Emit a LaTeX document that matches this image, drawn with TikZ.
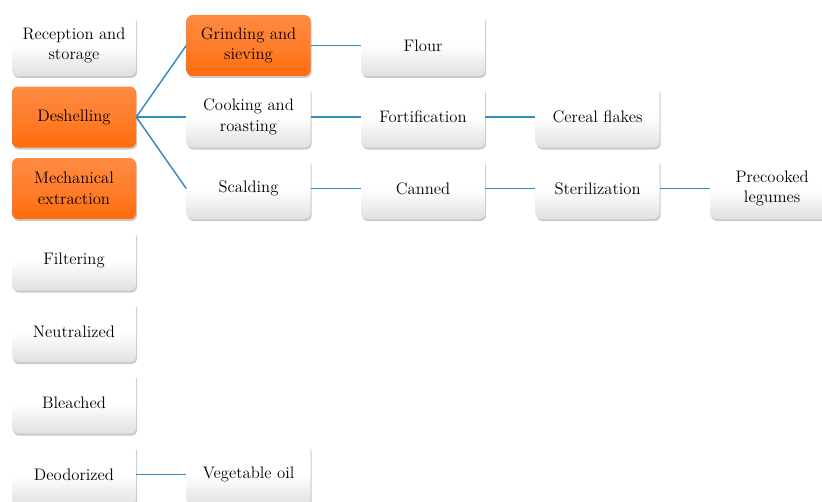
\documentclass[tikz,border=0pt]{standalone}
\usepackage{tikz}
\usetikzlibrary{positioning,shadows}

\definecolor{orangetop}{RGB}{255,138,66}
\definecolor{orangebot}{RGB}{255,108,12}
\definecolor{linkblue}{RGB}{52,140,192}

\begin{document}
\begin{tikzpicture}[
    x=0.75pt, y=-0.75pt,
    node distance=7.5pt and 37.5pt,
    stage/.style={rounded corners=4.5pt, align=center, minimum width=93pt, minimum height=45.75pt,
        inner sep=2pt, font=\fontsize{12.5}{15.5}\selectfont,
        top color=white, bottom color=black!12, middle color=white,
        drop shadow={shadow xshift=0.8pt, shadow yshift=-1.5pt, opacity=0.35, fill=black!60}},
    hot/.style={stage, top color=orangetop, bottom color=orangebot, middle color=orangetop!60!orangebot},
    link/.style={draw=linkblue, line width=1.1pt}
]
\useasboundingbox (0,0) rectangle (822,502);

% left column
\node[stage] (rec) at (74,45.5) {Reception and\\storage};
\node[hot, below=of rec] (desh) {Deshelling};
\node[hot, below=of desh] (mech) {Mechanical\\extraction};
\node[stage, below=of mech] (filt) {Filtering};
\node[stage, below=of filt] (neut) {Neutralized};
\node[stage, below=of neut] (blea) {Bleached};
\node[stage, below=of blea] (deod) {Deodorized};

% second column
\node[hot, right=of rec] (grind) {Grinding and\\sieving};
\node[stage, right=of desh] (cook) {Cooking and\\roasting};
\node[stage, right=of mech] (scald) {Scalding};
\node[stage, right=of deod] (oil) {Vegetable oil};

% further columns
\node[stage, right=of grind] (flour) {Flour};
\node[stage, right=of cook] (fort) {Fortification};
\node[stage, right=of fort] (flakes) {Cereal flakes};
\node[stage, right=of scald] (canned) {Canned};
\node[stage, right=of canned] (steril) {Sterilization};
\node[stage, right=of steril] (legumes) {Precooked\\legumes};

\draw[link] (desh.east) -- (grind.west);
\draw[link] (desh.east) -- (cook.west);
\draw[link] (desh.east) -- (scald.west);
\draw[link] (grind) -- (flour);
\draw[link] (cook) -- (fort);
\draw[link] (fort) -- (flakes);
\draw[link] (scald) -- (canned);
\draw[link] (canned) -- (steril);
\draw[link] (steril) -- (legumes);
\draw[link] (deod) -- (oil);
\end{tikzpicture}
\end{document}
